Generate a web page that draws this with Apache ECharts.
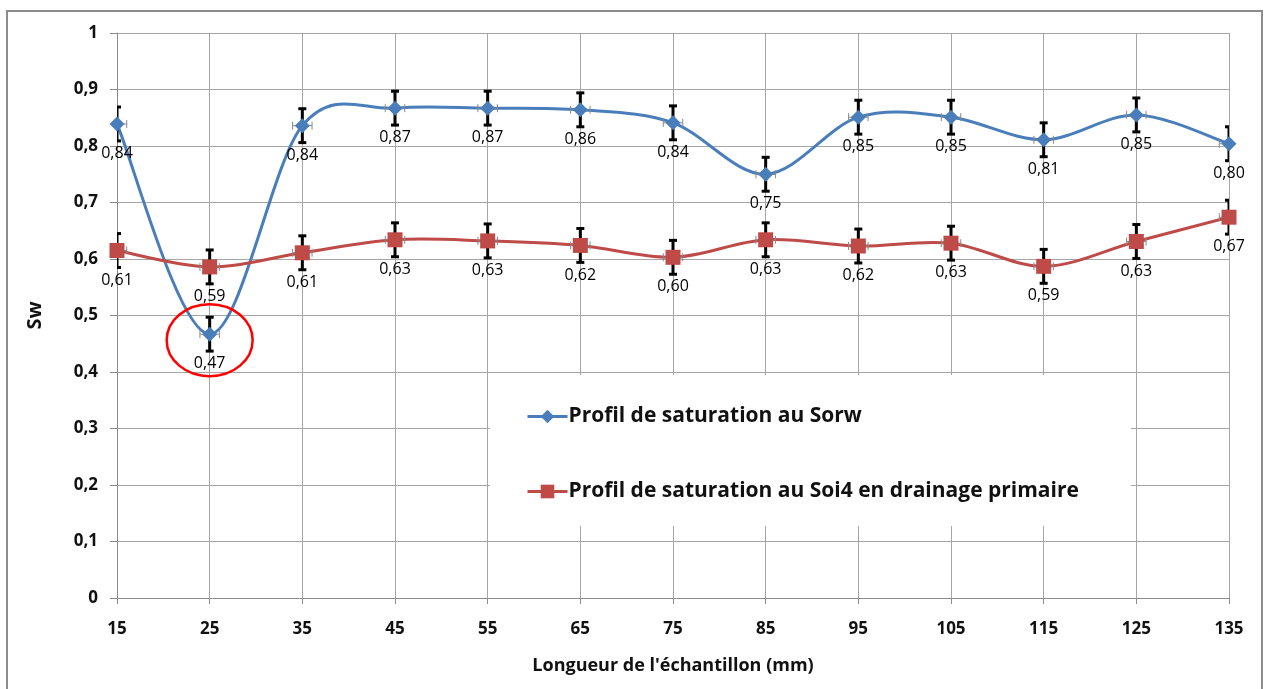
<!DOCTYPE html>
<html>
<head>
<meta charset="utf-8">
<script src="https://cdn.jsdelivr.net/npm/echarts@6/dist/echarts.min.js"></script>
<style>
html,body{margin:0;padding:0;background:#fff;}
#frame{position:absolute;left:6px;top:10px;width:1257px;height:690px;border:2px solid #8c8c8c;border-bottom:none;box-sizing:border-box;}
#chart{position:absolute;left:0;top:0;width:1269px;height:689px;}
</style>
</head>
<body>
<div id="frame"></div>
<div id="chart"></div>
<script>
const categories = ['15','25','35','45','55','65','75','85','95','105','115','125','135'];
const sorw = [0.839,0.467,0.836,0.867,0.867,0.864,0.841,0.750,0.851,0.851,0.811,0.855,0.804];
const soi4 = [0.615,0.586,0.611,0.634,0.632,0.624,0.603,0.634,0.623,0.628,0.587,0.631,0.674];
const sorwErr = [0.03,0.03,0.03,0.03,0.03,0.03,0.03,0.03,0.03,0.03,0.03,0.03,0.03];
const soi4Err = [0.03,0.03,0.03,0.03,0.03,0.03,0.03,0.03,0.03,0.03,0.03,0.03,0.03];
const xErrMm = 1.05;
const yTicks = ['0','0,1','0,2','0,3','0,4','0,5','0,6','0,7','0,8','0,9','1'];
const seriesNames = ['Profil de saturation au Sorw','Profil de saturation au Soi4 en drainage primaire'];
const xAxisName = "Longueur de l'échantillon (mm)";
const yAxisName = 'Sw';

const FONT = '"Open Sans", "Noto Sans", sans-serif';
const BLUE = '#4A7EBB';
const RED = '#BE4B48';
const CAT_STEP_MM = 10;

// Excel-like smoothed curve (Catmull-Rom / Bezier, tension 1/6) drawn through the axes
function curveSeries(vals, color) {
  const n = vals.length;
  const data = [];
  for (let i = 0; i < n - 1; i++) {
    data.push([i, vals[Math.max(i - 1, 0)], vals[i], vals[i + 1], vals[Math.min(i + 2, n - 1)]]);
  }
  return {
    type: 'custom', z: 2, silent: true, clip: true,
    encode: {x: 0, y: 2},
    data: data,
    renderItem: function (params, api) {
      const i = api.value(0);
      const p0 = api.coord([Math.max(i - 1, 0), api.value(1)]);
      const p1 = api.coord([i, api.value(2)]);
      const p2 = api.coord([i + 1, api.value(3)]);
      const p3 = api.coord([Math.min(i + 2, n - 1), api.value(4)]);
      return {
        type: 'bezierCurve',
        shape: {
          x1: p1[0], y1: p1[1], x2: p2[0], y2: p2[1],
          cpx1: p1[0] + (p2[0] - p0[0]) / 6, cpy1: p1[1] + (p2[1] - p0[1]) / 6,
          cpx2: p2[0] - (p3[0] - p1[0]) / 6, cpy2: p2[1] - (p3[1] - p1[1]) / 6
        },
        style: {stroke: color, lineWidth: 3, fill: null, lineCap: 'round'}
      };
    }
  };
}

function errorSeries(vals, errs) {
  return {
    type: 'custom', z: 2, silent: true, clip: true,
    data: vals.map((v, i) => [i, v, errs[i]]),
    renderItem: function (params, api) {
      const i = api.value(0), v = api.value(1), e = api.value(2);
      const top = api.coord([i, v + e]);
      const bot = api.coord([i, v - e]);
      const c = api.coord([i, v]);
      const band = api.size([1, 0])[0];
      const dx = band * xErrMm / CAT_STEP_MM;
      const cap = 4;
      const blk = {stroke: '#000', lineWidth: 3};
      const gry = {stroke: '#888', lineWidth: 1};
      return {
        type: 'group',
        children: [
          {type: 'line', z2: 5, shape: {x1: c[0] - dx, y1: c[1], x2: c[0] + dx, y2: c[1]}, style: gry},
          {type: 'line', z2: 5, shape: {x1: c[0] - dx, y1: c[1] - 4, x2: c[0] - dx, y2: c[1] + 4}, style: gry},
          {type: 'line', z2: 5, shape: {x1: c[0] + dx, y1: c[1] - 4, x2: c[0] + dx, y2: c[1] + 4}, style: gry},
          {type: 'line', shape: {x1: top[0], y1: top[1], x2: bot[0], y2: bot[1]}, style: blk},
          {type: 'line', shape: {x1: top[0] - cap, y1: top[1], x2: top[0] + cap, y2: top[1]}, style: blk},
          {type: 'line', shape: {x1: bot[0] - cap, y1: bot[1], x2: bot[0] + cap, y2: bot[1]}, style: blk}
        ]
      };
    }
  };
}

const chart = echarts.init(document.getElementById('chart'), null, {renderer: 'canvas'});
const labelCfg = {
  show: true, position: 'bottom', distance: 14,
  fontFamily: FONT, fontSize: 16, color: '#000',
  textBorderWidth: 0,
  formatter: p => p.value.toFixed(2).replace('.', ',')
};
chart.setOption({
  animation: false,
  backgroundColor: 'transparent',
  grid: {left: 117, right: 40, top: 33, bottom: 91, containLabel: false},
  xAxis: {
    type: 'category', data: categories, boundaryGap: false,
    name: xAxisName, nameLocation: 'middle', nameGap: 59,
    nameTextStyle: {fontFamily: FONT, fontSize: 18, fontWeight: 'bold', color: '#111'},
    axisLine: {lineStyle: {color: '#8c8c8c', width: 1}},
    axisTick: {show: true, length: 6, alignWithLabel: true, lineStyle: {color: '#8c8c8c'}},
    axisLabel: {fontFamily: FONT, fontSize: 17, fontWeight: 'bold', color: '#111', margin: 23},
    splitLine: {show: true, lineStyle: {color: '#a6a6a6', width: 1}}
  },
  yAxis: {
    type: 'value', min: 0, max: 1, interval: 0.1,
    name: yAxisName, nameLocation: 'middle', nameGap: 72, nameRotate: 90,
    nameTextStyle: {fontFamily: FONT, fontSize: 20, fontWeight: 'bold', color: '#111'},
    axisLine: {show: true, lineStyle: {color: '#8c8c8c', width: 1}},
    axisTick: {show: true, length: 7, lineStyle: {color: '#8c8c8c'}},
    axisLabel: {fontFamily: FONT, fontSize: 17, fontWeight: 'bold', color: '#111', margin: 19,
      formatter: (v) => yTicks[Math.round(v * 10)]},
    splitLine: {show: true, lineStyle: {color: '#a6a6a6', width: 1}}
  },
  legend: {
    left: 490, top: 375, orient: 'vertical', itemGap: 54,
    backgroundColor: '#fff', padding: [31, 52, 24, 36],
    itemWidth: 40, itemHeight: 17,
    lineStyle: {opacity: 1, width: 3},
    textStyle: {fontFamily: FONT, fontSize: 21, fontWeight: 'bold', color: '#111', padding: [0, 0, 0, -4]},
    data: seriesNames
  },
  series: [
    {
      name: seriesNames[0], type: 'line', data: sorw,
      symbol: 'diamond', symbolSize: 15, z: 3,
      lineStyle: {color: BLUE, width: 3, opacity: 0}, itemStyle: {color: BLUE},
      label: labelCfg
    },
    {
      name: seriesNames[1], type: 'line', data: soi4,
      symbol: 'rect', symbolSize: 15, z: 3,
      lineStyle: {color: RED, width: 3, opacity: 0}, itemStyle: {color: RED},
      label: labelCfg
    },
    curveSeries(sorw, BLUE),
    curveSeries(soi4, RED),
    errorSeries(sorw, sorwErr),
    errorSeries(soi4, soi4Err)
  ]
});

// red annotation ellipse around the minimum of the Sorw profile
const minIdx = sorw.indexOf(Math.min(...sorw));
const pc = chart.convertToPixel({seriesIndex: 0}, [minIdx, sorw[minIdx]]);
chart.setOption({
  graphic: [{
    type: 'ellipse', z: 10,
    shape: {cx: pc[0], cy: pc[1] + 6, rx: 43, ry: 36},
    style: {fill: 'none', stroke: '#ff0000', lineWidth: 2.5}
  }]
});
</script>
</body>
</html>
